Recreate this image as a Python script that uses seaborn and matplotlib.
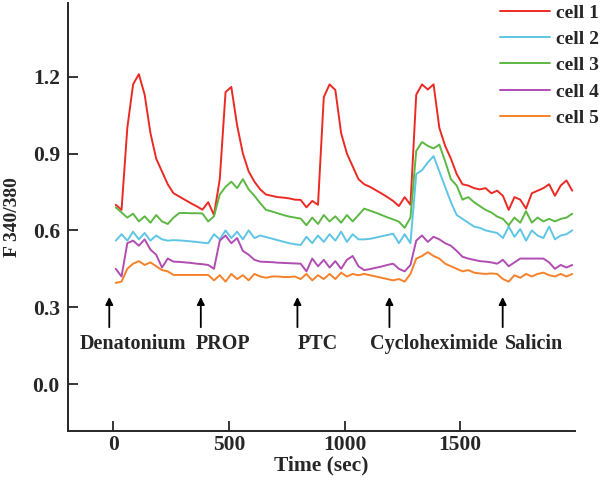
import matplotlib
matplotlib.use("Agg")
import matplotlib.pyplot as plt
import seaborn as sns
import pandas as pd

# time points (sec)
time_sec = [10, 35, 60, 85, 110, 135, 160, 185, 210, 235,
            260, 285, 310, 335, 360, 385, 410, 435, 460, 485,
            510, 535, 560, 585, 610, 635, 660, 685, 710, 735,
            760, 785, 810, 835, 860, 885, 910, 935, 960, 985,
            1010, 1035, 1060, 1085, 1110, 1135, 1160, 1185, 1210, 1235,
            1260, 1285, 1310, 1335, 1360, 1385, 1410, 1435, 1460, 1485,
            1510, 1535, 1560, 1585, 1610, 1635, 1660, 1685, 1710, 1735,
            1760, 1785, 1810, 1835, 1860, 1885, 1910, 1935, 1960, 1985]

cell1 = [0.70, 0.68, 1.00, 1.17, 1.21, 1.13, 0.98, 0.88, 0.83, 0.78,
         0.745, 0.732, 0.719, 0.706, 0.694, 0.681, 0.71, 0.66, 0.80, 1.14,
         1.16, 1.01, 0.90, 0.83, 0.79, 0.76, 0.74, 0.735, 0.73, 0.728,
         0.725, 0.72, 0.719, 0.69, 0.715, 0.70, 1.12, 1.17, 1.148, 0.98,
         0.90, 0.85, 0.80, 0.78, 0.77, 0.757, 0.744, 0.73, 0.715, 0.695,
         0.73, 0.70, 1.13, 1.17, 1.15, 1.17, 1.00, 0.93, 0.88, 0.82,
         0.78, 0.775, 0.765, 0.76, 0.765, 0.745, 0.755, 0.735, 0.68, 0.73,
         0.72, 0.685, 0.745, 0.755, 0.765, 0.78, 0.735, 0.775, 0.795, 0.755]

cell2 = [0.56, 0.585, 0.56, 0.595, 0.565, 0.59, 0.56, 0.58, 0.565, 0.56,
         0.562, 0.561, 0.559, 0.557, 0.555, 0.552, 0.55, 0.585, 0.565, 0.60,
         0.57, 0.595, 0.565, 0.60, 0.57, 0.58, 0.574, 0.568, 0.562, 0.556,
         0.55, 0.546, 0.543, 0.575, 0.55, 0.58, 0.555, 0.585, 0.56, 0.595,
         0.555, 0.585, 0.565, 0.565, 0.567, 0.572, 0.577, 0.582, 0.587, 0.55,
         0.585, 0.55, 0.82, 0.835, 0.865, 0.89, 0.83, 0.77, 0.71, 0.66,
         0.645, 0.63, 0.615, 0.61, 0.60, 0.595, 0.59, 0.57, 0.615, 0.575,
         0.605, 0.56, 0.60, 0.58, 0.57, 0.615, 0.565, 0.58, 0.585, 0.60]

cell3 = [0.69, 0.67, 0.65, 0.665, 0.635, 0.655, 0.63, 0.66, 0.635, 0.625,
         0.65, 0.668, 0.668, 0.667, 0.667, 0.666, 0.635, 0.655, 0.74, 0.77,
         0.79, 0.765, 0.80, 0.76, 0.735, 0.706, 0.68, 0.674, 0.667, 0.66,
         0.654, 0.65, 0.646, 0.62, 0.65, 0.625, 0.66, 0.635, 0.655, 0.63,
         0.66, 0.635, 0.66, 0.685, 0.677, 0.669, 0.66, 0.651, 0.643, 0.634,
         0.61, 0.65, 0.91, 0.945, 0.93, 0.92, 0.935, 0.87, 0.80, 0.775,
         0.72, 0.73, 0.71, 0.695, 0.68, 0.67, 0.654, 0.645, 0.62, 0.65,
         0.63, 0.675, 0.63, 0.65, 0.635, 0.645, 0.635, 0.645, 0.65, 0.665]

cell4 = [0.45, 0.42, 0.55, 0.56, 0.54, 0.565, 0.525, 0.505, 0.455, 0.49,
         0.478, 0.477, 0.475, 0.473, 0.47, 0.468, 0.465, 0.45, 0.56, 0.58,
         0.55, 0.57, 0.52, 0.505, 0.485, 0.478, 0.477, 0.476, 0.474, 0.473,
         0.472, 0.471, 0.47, 0.44, 0.49, 0.46, 0.485, 0.455, 0.48, 0.45,
         0.485, 0.50, 0.46, 0.445, 0.449, 0.454, 0.459, 0.465, 0.47, 0.45,
         0.44, 0.465, 0.56, 0.58, 0.555, 0.575, 0.565, 0.55, 0.54, 0.52,
         0.497, 0.49, 0.485, 0.48, 0.478, 0.475, 0.47, 0.485, 0.46, 0.475,
         0.49, 0.49, 0.49, 0.49, 0.49, 0.475, 0.45, 0.465, 0.455, 0.465]

cell5 = [0.395, 0.40, 0.45, 0.47, 0.48, 0.465, 0.475, 0.46, 0.445, 0.44,
         0.426, 0.426, 0.426, 0.426, 0.426, 0.426, 0.426, 0.405, 0.425, 0.40,
         0.43, 0.41, 0.425, 0.405, 0.43, 0.42, 0.415, 0.42, 0.42, 0.418,
         0.418, 0.42, 0.41, 0.43, 0.405, 0.425, 0.41, 0.43, 0.41, 0.435,
         0.42, 0.43, 0.425, 0.43, 0.425, 0.42, 0.415, 0.41, 0.405, 0.41,
         0.40, 0.43, 0.49, 0.50, 0.515, 0.50, 0.49, 0.47, 0.46, 0.45,
         0.44, 0.445, 0.435, 0.432, 0.43, 0.432, 0.43, 0.41, 0.40, 0.425,
         0.415, 0.43, 0.42, 0.43, 0.435, 0.425, 0.42, 0.43, 0.42, 0.43]

cell_names = ["cell 1", "cell 2", "cell 3", "cell 4", "cell 5"]
cell_colors = ["#ec2a24", "#5ec6e4", "#5db843", "#b04db3", "#f5822a"]

# stimulus arrows
stim_names = ["Denatonium", "PROP", "PTC", "Cycloheximide", "Salicin"]
stim_time = [-18, 378, 796, 1194, 1684]
stim_label_x = [84, 472, 886, 1388, 1820]

sns.set_style("ticks")
plt.rcParams["font.family"] = ["Liberation Serif", "DejaVu Serif"]
plt.rcParams["font.weight"] = "bold"
plt.rcParams["axes.labelweight"] = "bold"

fig = plt.figure(figsize=(6.03, 4.90), dpi=100)
ax = fig.add_axes([0.113, 0.12, 0.841, 0.874])

series = [cell1, cell2, cell3, cell4, cell5]
for name, vals, col in zip(cell_names, series, cell_colors):
    df = pd.DataFrame({"t": time_sec, "v": vals})
    sns.lineplot(data=df, x="t", y="v", color=col, lw=1.4, label=name,
                 ax=ax, estimator=None, sort=False)

for name, t, lx in zip(stim_names, stim_time, stim_label_x):
    ax.annotate("", xy=(t, 0.34), xytext=(t, 0.222),
                arrowprops=dict(arrowstyle="-|>", color="black", lw=1.3,
                                mutation_scale=11, shrinkA=0, shrinkB=0))
    ax.text(lx, 0.155, name, ha="center", va="center", fontsize=14.5,
            fontweight="bold")

ax.set_xlim(-196, 1998)
ax.set_ylim(-0.184, 1.488)
ax.set_xticks([0, 500, 1000, 1500])
ax.set_yticks([0.0, 0.3, 0.6, 0.9, 1.2])
ax.set_yticklabels(["0.0", "0.3", "0.6", "0.9", "1.2"])
ax.tick_params(direction="in", length=7, width=1.3, labelsize=15.5)
ax.tick_params(axis="x", pad=3)
ax.tick_params(axis="y", pad=6)
ax.set_xlabel("Time (sec)", fontsize=15.5, labelpad=0)
ax.set_ylabel("F 340/380", fontsize=14, labelpad=8)
sns.despine(ax=ax)
for s in ["left", "bottom"]:
    ax.spines[s].set_linewidth(1.4)

ax.legend(loc="upper right", bbox_to_anchor=(1.0, 1.0),
          bbox_transform=fig.transFigure, frameon=False, fontsize=14,
          handlelength=2.6, handletextpad=0.3, labelspacing=0.45,
          borderaxespad=0.1, borderpad=0.1)

fig.savefig("out.png", dpi=100)
